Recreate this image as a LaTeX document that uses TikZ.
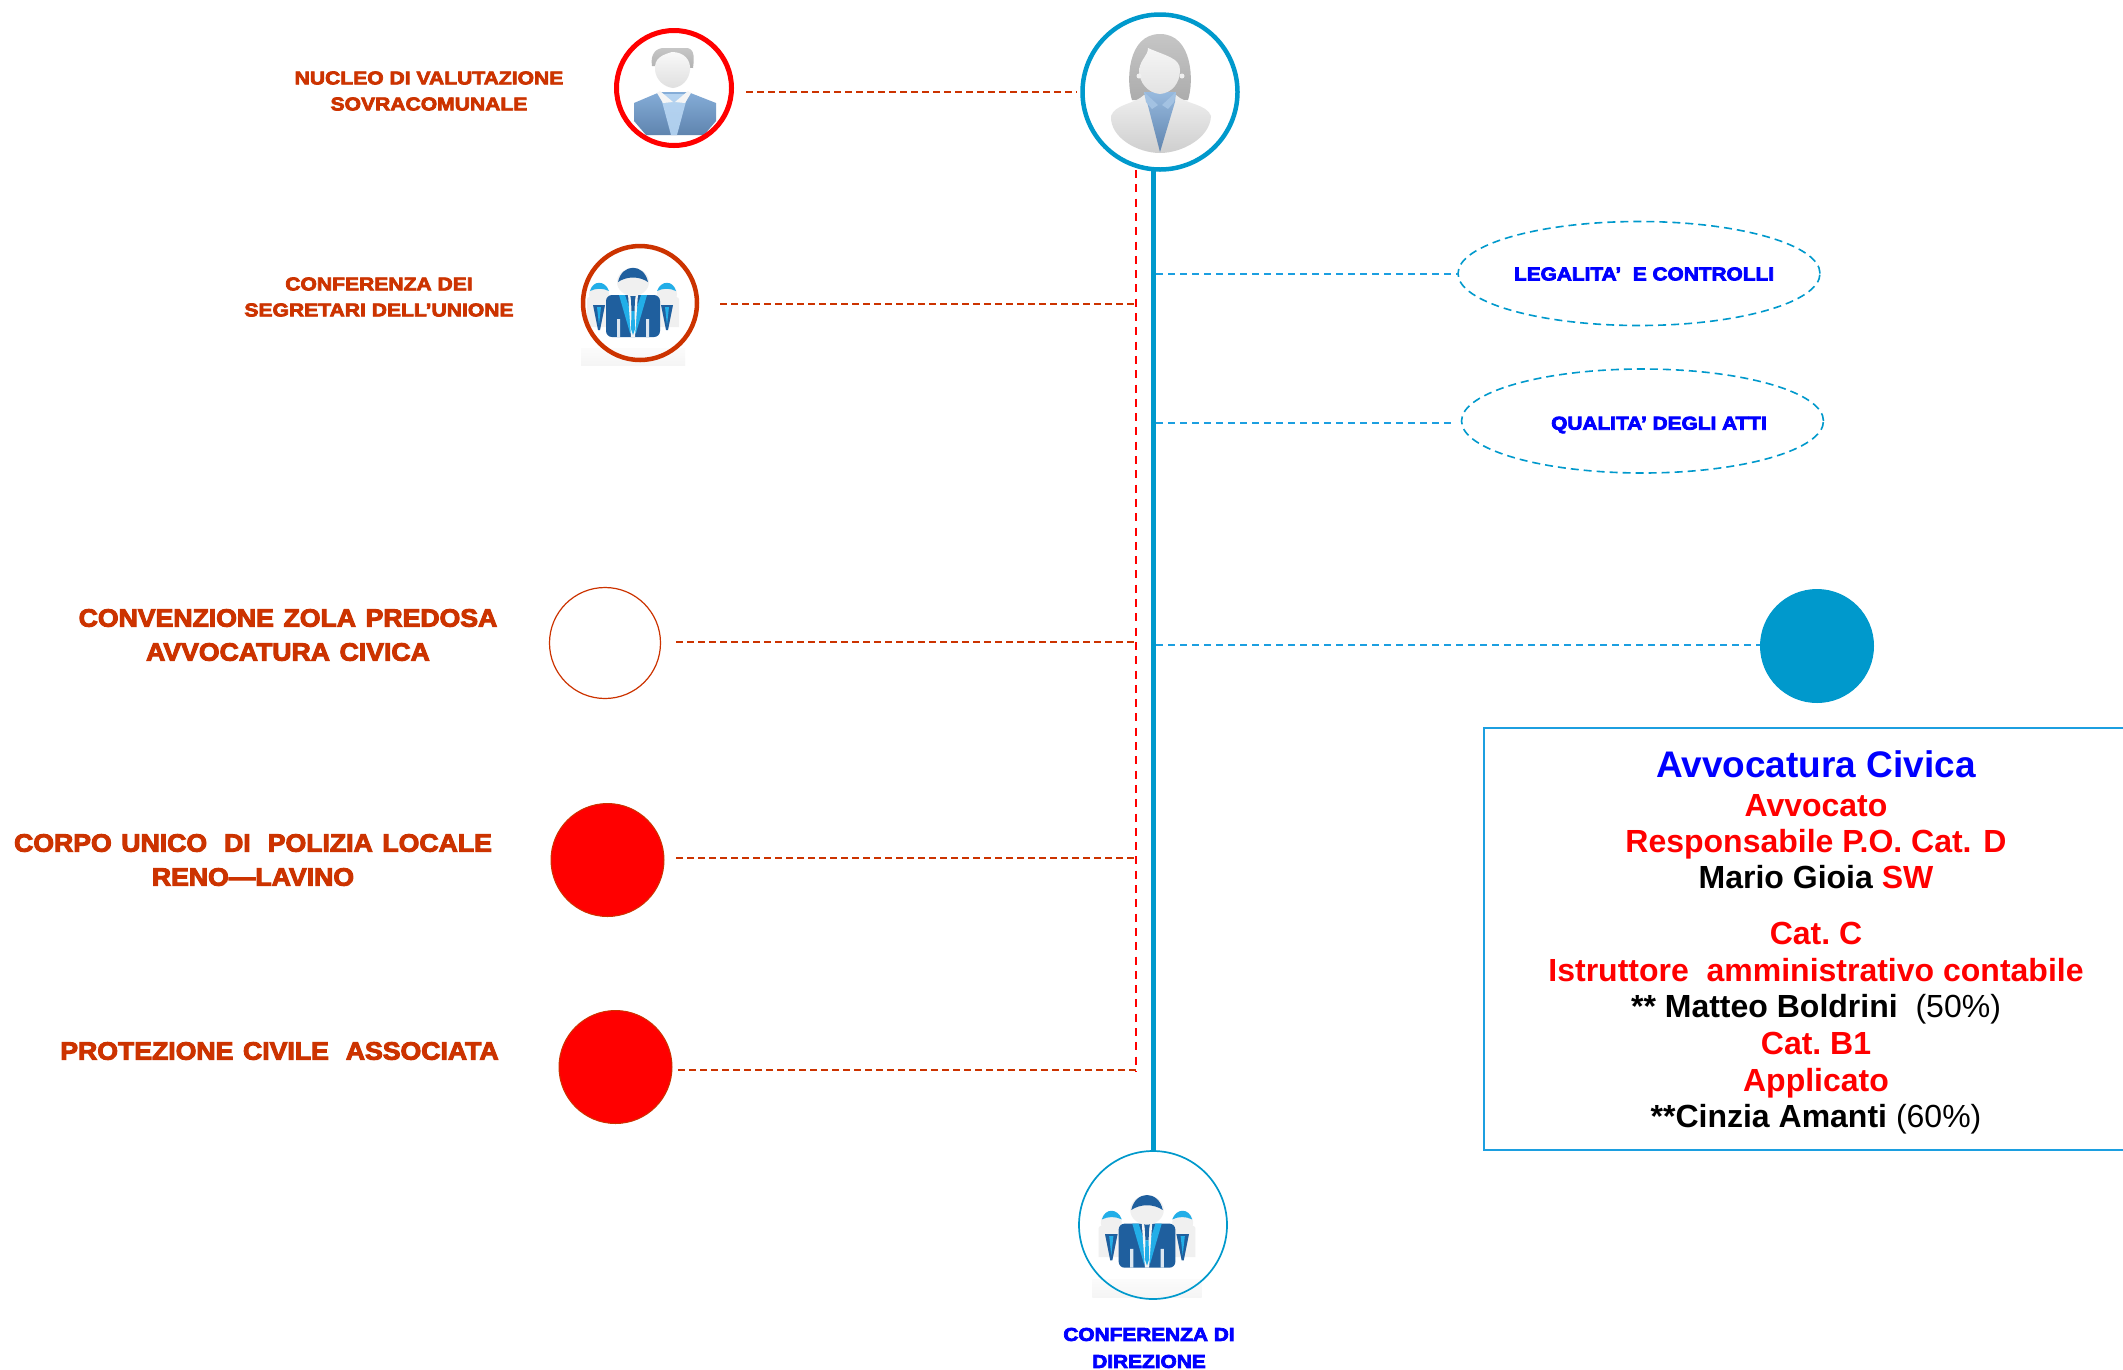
\documentclass[tikz,border=0pt]{standalone}
\usepackage{fontspec}
\setmainfont{Liberation Sans}
\newfontfamily\labfont[BoldFont={Liberation Sans Bold},BoldFeatures={FakeBold=4,FakeStretch=1.14}]{Liberation Sans}
\newfontfamily\bigfont[BoldFont={Liberation Sans Bold},BoldFeatures={FakeBold=4,FakeStretch=1.065,WordSpace=1.3}]{Liberation Sans}
\newfontfamily\bluefont[BoldFont={Liberation Sans Bold},BoldFeatures={FakeBold=4,FakeStretch=1.12}]{Liberation Sans}
\usetikzlibrary{shapes.geometric}
\definecolor{cOrange}{HTML}{CC3300}
\definecolor{cRed}{HTML}{FF0000}
\definecolor{cBlue}{HTML}{0099CC}
\definecolor{cSky}{HTML}{1C9FE0}
\definecolor{cPure}{HTML}{0000FF}
\definecolor{cSuit}{HTML}{1F5F9E}
\definecolor{cLight}{HTML}{22AEE8}
\definecolor{cVestT}{HTML}{85ADD8}
\definecolor{cVestB}{HTML}{5F84AE}
\definecolor{cShirt}{HTML}{B5D3F0}
\tikzset{
  x=1pt,y=-1pt,
  lab/.style={font=\labfont\bfseries\fontsize{18.5}{26}\selectfont,text=cOrange,align=center,inner sep=0pt},
  labbig/.style={font=\bigfont\bfseries\fontsize{25}{34}\selectfont,text=cOrange,align=center,inner sep=0pt},
  labblue/.style={font=\bluefont\bfseries\fontsize{18.6}{27}\selectfont,text=cPure,align=center,inner sep=0pt},
  ring/.style={circle,minimum size=#1,inner sep=0pt},
  odash/.style={cOrange,line width=1.7pt,dash pattern=on 7pt off 4pt},
  rdash/.style={cRed,line width=2pt,dash pattern=on 8pt off 6.3pt},
  bdash/.style={cSky,line width=1.6pt,dash pattern=on 7pt off 5pt},
  oval/.style={ellipse,draw=cBlue,line width=1.6pt,dash pattern=on 8pt off 5pt,minimum width=#1,minimum height=104pt,inner sep=0pt},
}
\newcommand{\manicon}[2]{%
 \begin{scope}[shift={(#1,#2)}]
  \shade[top color=cVestT,bottom color=cVestB] (-40,15) -- (-14,4) -- (14,4) -- (42,15) -- (42,33) -- (30,47) -- (-28,47) -- (-40,33) -- cycle;
  \shade[top color=cShirt,bottom color=cShirt!85!cVestT] (-14,6) -- (14,6) -- (3,47) -- (-3,47) -- cycle;
  \fill[gray!8] (-14,3) -- (-1,14) -- (-11,15) -- (-17,5) -- cycle (14,3) -- (1,14) -- (11,15) -- (17,5) -- cycle;
  \shade[top color=gray!45,bottom color=gray!60] (-22,-22) .. controls (-24,-34) and (-18,-40) .. (-10,-40) -- (12,-40) .. controls (19,-40) and (21,-34) .. (19,-20) -- cycle;
  \shade[top color=white!95!gray,bottom color=gray!25] (-2,-36) .. controls (-12,-33) and (-20,-30) .. (-19,-18) .. controls (-18,-8) and (-10,-1) .. (-1,0) .. controls (8,-1) and (15,-8) .. (16,-18) .. controls (17,-28) and (10,-36) .. (-2,-36) -- cycle;
 \end{scope}}
\newcommand{\womanicon}[2]{%
 \begin{scope}[shift={(#1,#2)}]
  \shade[top color=gray!45,bottom color=gray!65] (-28,8) .. controls (-34,-10) and (-33,-58) .. (0,-58) .. controls (33,-58) and (34,-10) .. (28,8) -- cycle;
  \shade[top color=gray!13,bottom color=gray!38] (-49,24) .. controls (-45,12) and (-25,12) .. (-16,3) -- (16,3) .. controls (25,12) and (47,12) .. (51,24) .. controls (50,46) and (22,61) .. (0,61) .. controls (-22,61) and (-50,46) .. (-49,24) -- cycle;
  \shade[top color=cVestT!85!white,bottom color=cVestB] (-16,0) -- (16,0) -- (15,10) -- (0,60) -- (-13,10) -- cycle;
  \fill[cVestT!75!white] (-16,0) -- (-2,13) -- (-8,17) -- (-14,10) -- cycle (16,0) -- (2,13) -- (8,17) -- (14,10) -- cycle;
  \shade[top color=white!92!gray,bottom color=gray!22] (-12,-44) .. controls (-12,-36) and (-19,-34) .. (-21,-22) .. controls (-21,-9) and (-12,1) .. (0,2) .. controls (12,1) and (20,-9) .. (20,-22) .. controls (20,-34) and (6,-36) .. (-12,-44) -- cycle;
  \fill[gray!12] (-21,-16) circle (2.5) (22,-16) circle (2.5);
 \end{scope}}
\newcommand{\groupicon}[3]{%
 \begin{scope}[shift={(#1,#2)},scale=#3]
  \shade[top color=gray!3,bottom color=gray!8] (-52,45) rectangle (52,62);
  \fill[gray!12] (-46,-4) .. controls (-46,-8) and (-24,-8) .. (-22,-4) -- (-22,24) -- (-46,24) -- cycle;
  \fill[gray!12] (46,-4) .. controls (46,-8) and (24,-8) .. (22,-4) -- (22,24) -- (46,24) -- cycle;
  \fill[gray!12] (-34,-9) ellipse [x radius=10,y radius=11];
  \fill[gray!12] (34,-9) ellipse [x radius=10,y radius=11];
  \fill[cLight] (-43,-12) .. controls (-40,-23) and (-28,-23) .. (-24,-12) .. controls (-30,-15) and (-37,-15) .. (-43,-12) -- cycle;
  \fill[cLight] (24,-12) .. controls (28,-23) and (40,-23) .. (43,-12) .. controls (37,-15) and (30,-15) .. (24,-12) -- cycle;
  \fill[cSuit] (-40,2) -- (-28,2) -- (-33,27) -- (-35,27) -- cycle (28,2) -- (40,2) -- (35,27) -- (33,27) -- cycle;
  \fill[cLight] (-36,4) -- (-32,4) -- (-34,22) -- cycle (32,4) -- (36,4) -- (34,22) -- cycle;
  \fill[cSuit,rounded corners=6pt] (-27,34) -- (-27,-8) -- (27,-8) -- (27,34) -- cycle;
  \fill[cLight] (-14,-8) -- (-8,-8) -- (0,16) -- (8,-8) -- (14,-8) -- (3,30) -- (-3,30) -- cycle;
  \fill[white!92!gray] (-5,-9) -- (5,-9) -- (2,34) -- (-2,34) -- cycle;
  \fill[cSuit] (-3,-9) -- (3,-9) -- (2,-3) -- (1.5,8) -- (-1.5,8) -- (-2,-3) -- cycle;
  \fill[cLight] (-1.5,8) -- (1.5,8) -- (2,26) -- (0,32) -- (-2,26) -- cycle;
  \fill[white!85!cSuit] (-16,16) rectangle (-13,34) (13,16) rectangle (16,34);
  \fill[gray!12] (0,-21) ellipse [x radius=16,y radius=14];
  \fill[cSuit] (-15,-21) .. controls (-11,-40) and (11,-40) .. (15,-21) .. controls (6,-27) and (-6,-27) .. (-15,-21) -- cycle;
 \end{scope}}
\begin{document}
\begin{tikzpicture}
\useasboundingbox (0,0) rectangle (2123,1369);
\fill[white] (0,0) rectangle (2123,1369);
% icons
\manicon{674}{88}
\womanicon{1160}{92}
\groupicon{633}{303}{1}
\groupicon{1147}{1232}{1.05}
% circles
\node[ring=115pt,draw=cRed,line width=5pt] (nucleo) at (674,88) {};
\node[ring=155pt,draw=cBlue,line width=4.5pt] (boss) at (1160,92) {};
\node[ring=114pt,draw=cOrange,line width=4.5pt] (segr) at (640,303) {};
\node[ring=111pt,draw=cOrange,line width=1.2pt] (conv) at (605,643) {};
\node[ring=113pt,fill=cRed,draw=cOrange,line width=1pt] (corpo) at (607.5,860) {};
\node[ring=113pt,fill=cRed,draw=cOrange,line width=1pt] (prot) at (615.5,1067) {};
\node[ring=114pt,fill=cBlue] (avv) at (1817,646) {};
\node[ring=148pt,draw=cBlue,line width=1.7pt] (dir) at (1153,1225) {};
\node[oval=362pt] (leg) at (1639,273.5) {};
\node[oval=362pt] (qual) at (1642.5,421) {};
% junctions
\coordinate (vtop) at (1153,170);
\coordinate (rtop) at (1136,170);
\coordinate (rbot) at (1136,1072);
% connectors
\draw[cBlue,line width=5pt] (vtop) -- (dir.north);
\draw[rdash] (rtop) -- (rbot);
\coordinate (j1) at (1136,304);
\coordinate (j2) at (1136,642);
\coordinate (j3) at (1136,858);
\coordinate (j4) at (1136,1070);
\coordinate (bw) at (1077,92);
\coordinate (n1) at (746,92);
\coordinate (n2) at (720,304);
\coordinate (n3) at (676,642);
\coordinate (n4) at (676,858);
\coordinate (n5) at (678,1070);
\draw[odash] (n1) -- (bw);
\draw[odash] (n2) -- (j1);
\draw[odash] (n3) -- (j2);
\draw[odash] (n4) -- (j3);
\draw[odash] (n5) -- (j4);
\coordinate (b1) at (1156,274);
\coordinate (b1e) at (1458,274);
\coordinate (b2) at (1156,423);
\coordinate (b2e) at (1454,423);
\coordinate (b3) at (1156,645);
\coordinate (b3e) at (1760,645);
\draw[bdash] (b1) -- (b1e);
\draw[bdash] (b2) -- (b2e);
\draw[bdash] (b3) -- (b3e);
% labels
\node[lab] (t1) at (429,91) {NUCLEO DI VALUTAZIONE\\SOVRACOMUNALE};
\node[lab] (t2) at (379,297) {CONFERENZA DEI\\SEGRETARI DELL’UNIONE};
\node[labbig] (t3) at (288,635) {CONVENZIONE ZOLA PREDOSA\\AVVOCATURA CIVICA};
\node[labbig] (t4) at (253,860) {CORPO UNICO\hspace{17pt}DI\hspace{17pt}POLIZIA LOCALE\\RENO—LAVINO};
\node[labbig] (t5) at (279.5,1051) {PROTEZIONE CIVILE\hspace{17pt}ASSOCIATA};
\node[labblue] (t6) at (1644,274) {LEGALITA’\ \ E CONTROLLI};
\node[labblue] (t7) at (1659,425) {QUALITA’ DEGLI ATTI};
\node[labblue] (t8) at (1149,1348) {CONFERENZA DI\\DIREZIONE};
% box
\draw[cSky,line width=1.7pt] (2125,728) -- (1484,728) -- (1484,1150) -- (2125,1150);
\begin{scope}[every node/.style={anchor=base,inner sep=0pt,font=\frenchspacing\bfseries\fontsize{32}{36}\selectfont}]
\node[text=cPure,font=\bfseries\fontsize{37}{40}\selectfont] (a0) at (1816,777) {Avvocatura Civica};
\node[text=cRed] (a1) at (1816,816) {Avvocato};
\node[text=cRed] (a2) at (1816,852) {\nonfrenchspacing Responsabile P.O. Cat. D};
\node (a3) at (1816,888) {Mario Gioia \textcolor{cRed}{SW}};
\node[text=cRed] (a4) at (1816,944) {Cat. C};
\node[text=cRed] (a5) at (1816,981) {Istruttore\ \ amministrativo contabile};
\node (a6) at (1816,1017) {** Matteo Boldrini\ \ \mdseries(50\%)};
\node[text=cRed] (a7) at (1816,1054) {Cat. B1};
\node[text=cRed] (a8) at (1816,1091) {Applicato};
\node (a9) at (1816,1127) {**Cinzia Amanti \mdseries(60\%)};
\end{scope}
\end{tikzpicture}
\end{document}
